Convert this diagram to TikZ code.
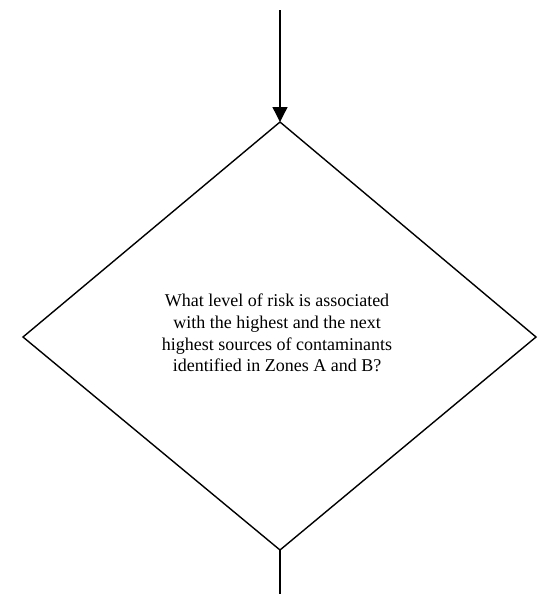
\documentclass[tikz,border=0pt]{standalone}
\usepackage{fontspec}
\setmainfont{Liberation Serif}
\usetikzlibrary{arrows.meta}
\begin{document}
\begin{tikzpicture}[x=1pt,y=-1pt,
  line/.style={line width=1.4pt,black},
  arr/.style={line, -{Triangle[length=15pt,width=15pt]}},
  lbl/.style={align=center,font=\fontsize{18}{21.7}\selectfont,inner sep=0pt}]
\useasboundingbox (0,0) rectangle (539,597);
\coordinate (start) at (280,10);
\coordinate (top) at (280,122);
\coordinate (left) at (23,337);
\coordinate (right) at (536,337);
\coordinate (bottom) at (280,550);
\coordinate (end) at (280,594);
\draw[line, line join=miter] (top) -- (right) -- (bottom) -- (left) -- cycle;
\draw[arr] (start) -- (top);
\draw[line] (bottom) -- (end);
\node[lbl] (q) at (277,333) {What level of risk is associated\\with the highest and the next\\highest sources of contaminants\\identified in Zones A and B?};
\end{tikzpicture}
\end{document}
